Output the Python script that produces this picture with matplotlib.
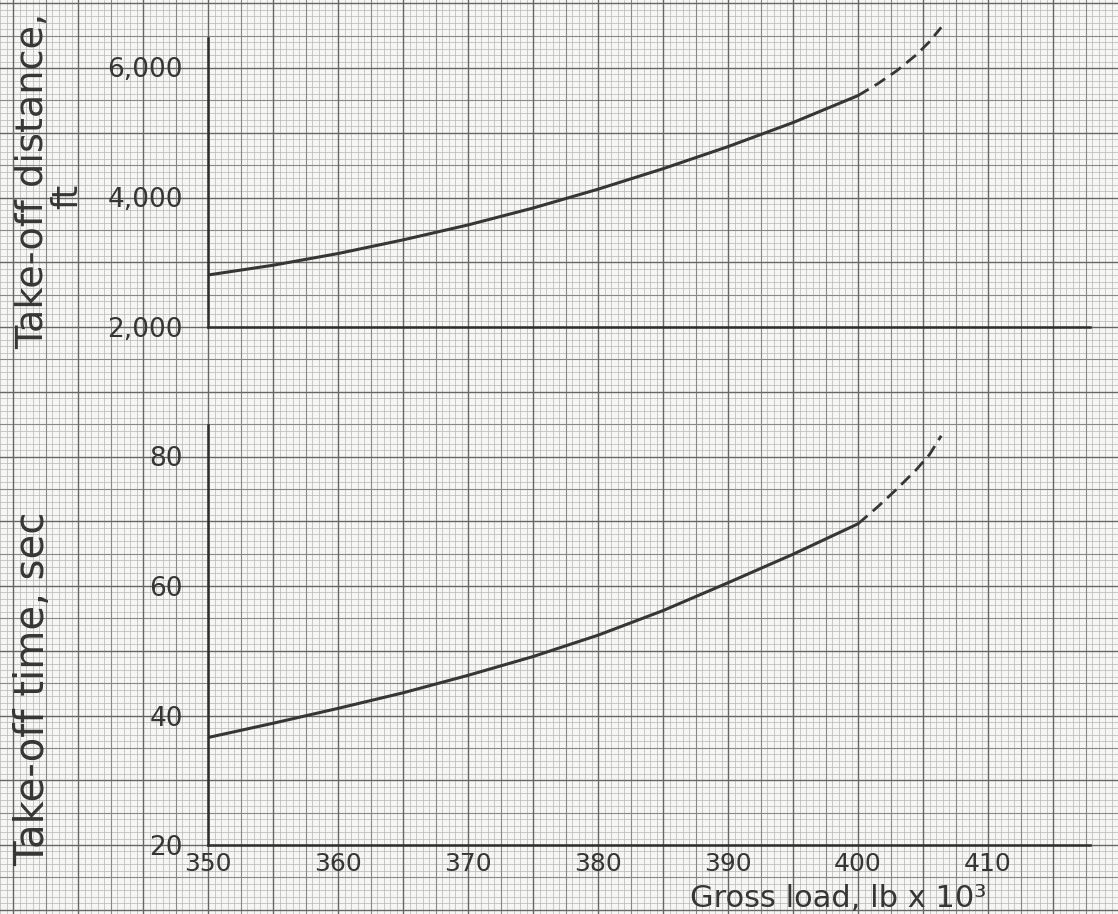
import numpy as np
import matplotlib
matplotlib.use("Agg")
import matplotlib.pyplot as plt

# gross load, lb x 10^3
load = [350, 355, 360, 365, 370, 375, 380, 385, 390, 395, 400]
load_ext = [400, 401.5, 403, 404.5, 405.5, 406.4]

# take-off distance, ft
dist = [2800, 2950, 3130, 3340, 3570, 3830, 4120, 4435, 4775, 5145, 5560]
dist_ext = [5560, 5740, 5945, 6190, 6390, 6610]

# take-off time, sec
time = [36.6, 38.8, 41.1, 43.5, 46.2, 49.1, 52.4, 56.2, 60.5, 64.9, 69.6]
time_ext = [69.6, 72.2, 75.0, 78.0, 80.3, 83.2]

load_ticks = [350, 360, 370, 380, 390, 400, 410]
dist_ticks = [2000, 4000, 6000]
dist_labels = ["2,000", "4,000", "6,000"]
time_ticks = [20, 40, 60, 80]

W, H = 1118, 914
ink = "#363636"
fnt = "DejaVu Sans"

fig = plt.figure(figsize=(W / 100, H / 100), dpi=100)
fig.patch.set_facecolor("#f6f6f4")

# graph paper background, in pixel units
bg = fig.add_axes([0, 0, 1, 1])
bg.set_xlim(0, W)
bg.set_ylim(H, 0)
bg.axis("off")
bg.set_facecolor("none")

x0, dx = 208.0, 6.5
y0, dy = 327.0, 6.475
for k in range(-40, 140):
    x = x0 + k * dx
    if 0 <= x <= W:
        if k % 10 == 0:
            bg.axvline(x, color="#666666", lw=1.0, zorder=1)
        elif k % 5 == 0:
            bg.axvline(x, color="#888888", lw=0.8, zorder=0.9)
        else:
            bg.axvline(x, color="#b6b6b6", lw=0.5, zorder=0.8)
for k in range(-60, 100):
    y = y0 + k * dy
    if 0 <= y <= H:
        if k % 10 == 0:
            bg.axhline(y, color="#666666", lw=1.0, zorder=1)
        elif k % 5 == 0:
            bg.axhline(y, color="#888888", lw=0.8, zorder=0.9)
        else:
            bg.axhline(y, color="#b6b6b6", lw=0.5, zorder=0.8)

# axis titles (hand lettering)
bg.text(33, 349, "Take-off distance,", rotation=90, ha="center", va="bottom",
        fontsize=27.5, color=ink, family=fnt)
bg.text(67, 196, "ft", rotation=90, ha="center", va="center",
        fontsize=25, color=ink, family=fnt)
bg.text(33, 866, "Take-off time, sec", rotation=90, ha="center", va="bottom",
        fontsize=29, color=ink, family=fnt)
bg.text(838, 913, "Gross load, lb x 10\u00b3", ha="center", va="bottom",
        fontsize=22, color=ink, family=fnt)

xmax = 350 + (1090 - 208) / 13.0

# upper panel: distance
ax1 = fig.add_axes([208 / W, (H - 327) / H, 882 / W, 325 / H])
ax1.set_facecolor("none")
ax1.set_xlim(350, xmax)
ax1.set_ylim(2000, 7000)
ax1.plot(load, dist, color=ink, lw=2.2, solid_capstyle="round")
ax1.plot(load_ext, dist_ext, color=ink, lw=2.0, linestyle=(0, (4.5, 2.5)))
ax1.set_xticks([])
ax1.set_yticks(dist_ticks)
ax1.set_yticklabels(dist_labels, family=fnt, fontsize=19, color=ink)
ax1.tick_params(axis="y", length=0, pad=18)
for s in ["top", "right"]:
    ax1.spines[s].set_visible(False)
for s in ["left", "bottom"]:
    ax1.spines[s].set_color("#2e2e2e")
    ax1.spines[s].set_linewidth(1.8)
ax1.spines["left"].set_bounds(2000, 6450)

# lower panel: time
ax2 = fig.add_axes([208 / W, (H - 845) / H, 882 / W, 455 / H])
ax2.set_facecolor("none")
ax2.set_xlim(350, xmax)
ax2.set_ylim(20, 20 + 455 / 129.5 * 20)
ax2.plot(load, time, color=ink, lw=2.2, solid_capstyle="round")
ax2.plot(load_ext, time_ext, color=ink, lw=2.0, linestyle=(0, (4.5, 2.5)))
ax2.set_xticks(load_ticks)
ax2.set_xticklabels([str(v) for v in load_ticks], family=fnt, fontsize=18, color=ink)
ax2.set_yticks(time_ticks)
ax2.set_yticklabels([str(v) for v in time_ticks], family=fnt, fontsize=19, color=ink)
ax2.tick_params(axis="y", length=0, pad=18)
ax2.tick_params(axis="x", length=0, pad=5)
for s in ["top", "right"]:
    ax2.spines[s].set_visible(False)
for s in ["left", "bottom"]:
    ax2.spines[s].set_color("#2e2e2e")
    ax2.spines[s].set_linewidth(1.8)
ax2.spines["left"].set_bounds(20, 84.9)

fig.savefig("out.png", dpi=100, facecolor=fig.get_facecolor())
